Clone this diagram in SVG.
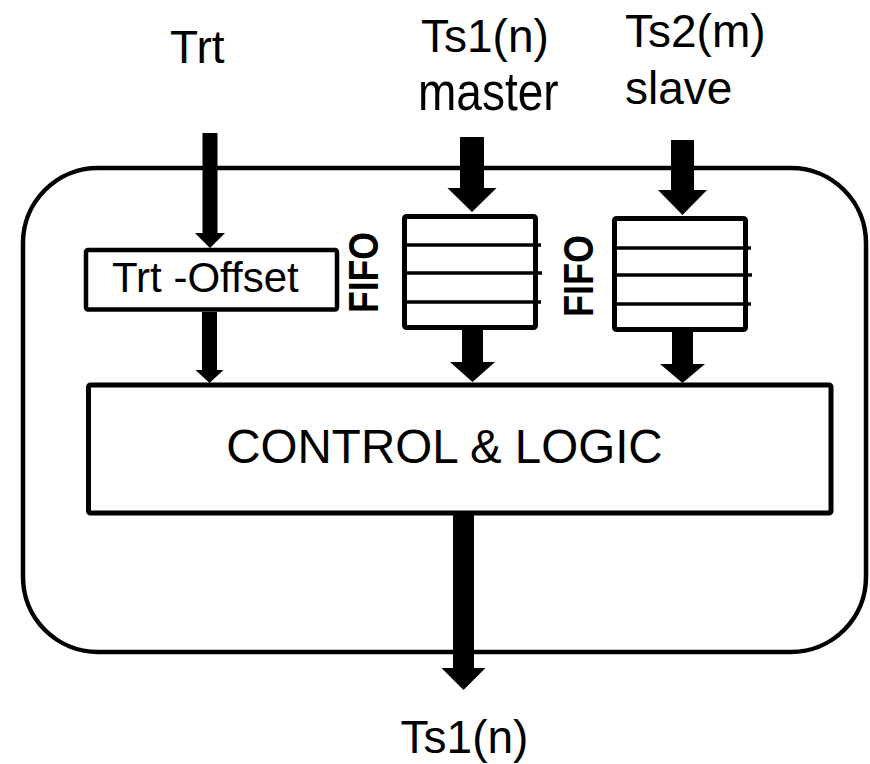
<svg xmlns="http://www.w3.org/2000/svg" width="870" height="764" viewBox="0 0 870 764">
<style>
  .box{fill:#fff;stroke:#000;stroke-linejoin:round}
  .lbl{font-family:"Liberation Sans",Arial,sans-serif;fill:#000}
  .fifo{font-family:"Liberation Sans",Arial,sans-serif;font-weight:bold;font-size:42px;fill:#000}
  .slot{stroke:#000;stroke-width:3.5}
  .arr{fill:#000}
</style>
<rect width="870" height="764" fill="#fff"/>
<g id="outer"><rect class="box" x="23" y="168" width="843" height="484" rx="75" ry="75" stroke-width="4.5"/></g>
<g id="label-trt"><text class="lbl" x="170" y="63" font-size="46">Trt</text></g>
<g id="label-ts1"><text class="lbl" x="421" y="52" font-size="46">Ts1(n)</text><text class="lbl" font-size="46" transform="translate(418,110) scale(1,1.18)">master</text></g>
<g id="label-ts2"><text class="lbl" x="625" y="47" font-size="46">Ts2(m)</text><text class="lbl" x="625" y="104" font-size="46">slave</text></g>
<g id="trt-offset"><rect class="box" x="86" y="250" width="251" height="59.5" rx="2" stroke-width="4.5"/><text class="lbl" x="112" y="292" font-size="42">Trt -Offset</text></g>
<g id="fifo1"><rect class="box" x="404.5" y="216.5" width="131" height="111" rx="2" stroke-width="5"/><line class="slot" x1="404" y1="245" x2="541" y2="245"/><line class="slot" x1="404" y1="273" x2="542" y2="273"/><line class="slot" x1="404" y1="302" x2="541" y2="302"/><text class="fifo" transform="translate(378,313) rotate(-90)" textLength="81" lengthAdjust="spacingAndGlyphs">FIFO</text></g>
<g id="fifo2"><rect class="box" x="614.5" y="218.5" width="131" height="111" rx="2" stroke-width="5"/><line class="slot" x1="614" y1="248" x2="751" y2="248"/><line class="slot" x1="614" y1="275" x2="752" y2="275"/><line class="slot" x1="614" y1="304" x2="751" y2="304"/><text class="fifo" transform="translate(593,317) rotate(-90)" textLength="82" lengthAdjust="spacingAndGlyphs">FIFO</text></g>
<g id="control"><rect class="box" x="88.5" y="385" width="742.5" height="128" rx="2" stroke-width="5"/><text class="lbl" x="444.5" y="463" font-size="47.5" text-anchor="middle">CONTROL &amp; LOGIC</text></g>
<g id="label-out"><text class="lbl" x="464.5" y="753" font-size="46" text-anchor="middle">Ts1(n)</text></g>
<g id="connectors">
  <polygon class="arr" points="202.5,133 217.5,133 217.5,233 225,233 210,248 195,233 202.5,233"/>
  <polygon class="arr" points="202,312 217,312 217,370 223.5,370 209.5,383 195.5,370 202,370"/>
  <polygon class="arr" points="460,137 484,137 484,188 496.5,188 472,212 447.5,188 460,188"/>
  <polygon class="arr" points="462,330 483,330 483,362 495,362 472.5,382 450,362 462,362"/>
  <polygon class="arr" points="671,140 694,140 694,190 707,190 682.5,215 658,190 671,190"/>
  <polygon class="arr" points="672,332 693,332 693,364 705,364 682.5,383 660,364 672,364"/>
  <polygon class="arr" points="453,513 474,513 474,668 485.5,668 463.5,690 441.5,668 453,668"/>
</g>
</svg>
